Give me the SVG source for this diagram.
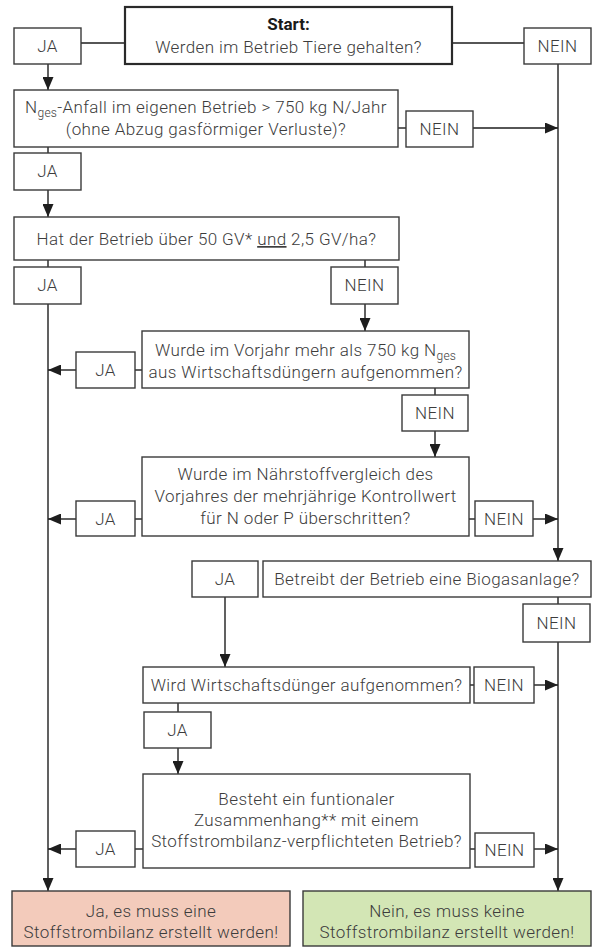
<svg xmlns="http://www.w3.org/2000/svg" width="595" height="949" viewBox="0 0 595 949">
<style>
.box{fill:#fff;stroke:#3a3a3a;stroke-width:1.4}
.start{fill:#fff;stroke:#2a2a2a;stroke-width:2.2}
.lbl{fill:#fff;stroke:#3a3a3a;stroke-width:1.4}
.yes{fill:#f3cbbb;stroke:#3a3a3a;stroke-width:1.4}
.no{fill:#d3e6b5;stroke:#3a3a3a;stroke-width:1.4}
text{font-family:Roboto,"Liberation Sans",Arial,sans-serif;font-weight:300;font-size:17px;letter-spacing:0.4px;fill:#3c3c3c;text-anchor:middle}
.b{font-weight:700;fill:#1a1a1a;letter-spacing:0}
.sub{font-size:12px;letter-spacing:0.2px}
.c line{stroke:#1e1e1e;stroke-width:1.4;fill:none}
</style>
<defs>
<marker id="ah" markerUnits="userSpaceOnUse" markerWidth="13" markerHeight="11" refX="13" refY="5.5" orient="auto">
<path d="M0,0 L13,5.5 L0,11 z" fill="#1e1e1e"/>
</marker>
</defs>

<g id="connectors" class="c">
<line x1="81" y1="43" x2="125" y2="43"/>
<line x1="452" y1="43" x2="524" y2="43"/>
<line x1="48" y1="64" x2="48" y2="90" marker-end="url(#ah)"/>
<line x1="398" y1="128" x2="406" y2="128"/>
<line x1="473" y1="128" x2="558" y2="128" marker-end="url(#ah)"/>
<line x1="558" y1="64" x2="558" y2="561" marker-end="url(#ah)"/>
<line x1="48" y1="147" x2="48" y2="153"/>
<line x1="48" y1="190" x2="48" y2="217" marker-end="url(#ah)"/>
<line x1="48" y1="260" x2="48" y2="267"/>
<line x1="365" y1="260" x2="365" y2="267"/>
<line x1="365" y1="304" x2="365" y2="331" marker-end="url(#ah)"/>
<line x1="48" y1="304" x2="48" y2="891" marker-end="url(#ah)"/>
<line x1="142" y1="370" x2="135" y2="370"/>
<line x1="76" y1="370" x2="48" y2="370" marker-end="url(#ah)"/>
<line x1="435" y1="388" x2="435" y2="395"/>
<line x1="435" y1="431" x2="435" y2="457" marker-end="url(#ah)"/>
<line x1="142" y1="519" x2="135" y2="519"/>
<line x1="76" y1="519" x2="48" y2="519" marker-end="url(#ah)"/>
<line x1="469" y1="519" x2="475" y2="519"/>
<line x1="533" y1="519" x2="558" y2="519" marker-end="url(#ah)"/>
<line x1="225" y1="597" x2="225" y2="667" marker-end="url(#ah)"/>
<line x1="558" y1="597" x2="558" y2="604"/>
<line x1="558" y1="642" x2="558" y2="891" marker-end="url(#ah)"/>
<line x1="470" y1="685" x2="474" y2="685"/>
<line x1="534" y1="685" x2="558" y2="685" marker-end="url(#ah)"/>
<line x1="178" y1="703" x2="178" y2="712"/>
<line x1="178" y1="748" x2="178" y2="774" marker-end="url(#ah)"/>
<line x1="143" y1="849" x2="135" y2="849"/>
<line x1="76" y1="849" x2="48" y2="849" marker-end="url(#ah)"/>
<line x1="470" y1="849" x2="475" y2="849"/>
<line x1="534" y1="849" x2="558" y2="849" marker-end="url(#ah)"/>
</g>

<g id="start">
<rect class="start" x="125" y="7" width="327" height="57"/>
<text x="288.5" y="30" class="b">Start:</text>
<text x="288.5" y="53">Werden im Betrieb Tiere gehalten?</text>
</g>
<g id="ja1"><rect class="lbl" x="14" y="28" width="67" height="36"/><text x="47.5" y="52">JA</text></g>
<g id="nein1"><rect class="lbl" x="524" y="28" width="67" height="36"/><text x="557.5" y="52">NEIN</text></g>

<g id="q-nges">
<rect class="box" x="14" y="90" width="384" height="57"/>
<text x="206" y="113">N<tspan class="sub" dy="4">ges</tspan><tspan dy="-4">-Anfall im eigenen Betrieb &gt; 750 kg N/Jahr</tspan></text>
<text x="206" y="135">(ohne Abzug gasförmiger Verluste)?</text>
</g>
<g id="nein2"><rect class="lbl" x="406" y="111" width="67" height="36"/><text x="439.5" y="135">NEIN</text></g>
<g id="ja2"><rect class="lbl" x="14" y="153" width="67" height="37"/><text x="47.5" y="177">JA</text></g>

<g id="q-gv">
<rect class="box" x="14" y="217" width="385" height="43"/>
<text x="206.5" y="245">Hat der Betrieb über 50 GV* <tspan text-decoration="underline">und</tspan> 2,5 GV/ha?</text>
</g>
<g id="ja3"><rect class="lbl" x="14" y="267" width="67" height="37"/><text x="47.5" y="291">JA</text></g>
<g id="nein3"><rect class="lbl" x="331" y="267" width="67" height="37"/><text x="364.5" y="291">NEIN</text></g>

<g id="q-vorjahr">
<rect class="box" x="142" y="331" width="327" height="57"/>
<text x="305.5" y="356">Wurde im Vorjahr mehr als 750 kg N<tspan class="sub" dy="4">ges</tspan></text>
<text x="305.5" y="378">aus Wirtschaftsdüngern aufgenommen?</text>
</g>
<g id="ja4"><rect class="lbl" x="76" y="352" width="59" height="36"/><text x="105.5" y="376">JA</text></g>
<g id="nein4"><rect class="lbl" x="402" y="395" width="66" height="36"/><text x="435" y="419">NEIN</text></g>

<g id="q-naehrstoff">
<rect class="box" x="142" y="457" width="327" height="79"/>
<text x="305.5" y="480">Wurde im Nährstoffvergleich des</text>
<text x="305.5" y="502">Vorjahres der mehrjährige Kontrollwert</text>
<text x="305.5" y="524">für N oder P überschritten?</text>
</g>
<g id="ja5"><rect class="lbl" x="76" y="501" width="59" height="35"/><text x="105.5" y="524.5">JA</text></g>
<g id="nein5"><rect class="lbl" x="475" y="501" width="58" height="35"/><text x="504" y="524.5">NEIN</text></g>

<g id="q-biogas">
<rect class="box" x="263" y="561" width="328" height="36"/>
<text x="427" y="585">Betreibt der Betrieb eine Biogasanlage?</text>
</g>
<g id="ja6"><rect class="lbl" x="192" y="561" width="66" height="36"/><text x="225" y="585">JA</text></g>
<g id="nein6"><rect class="lbl" x="523" y="604" width="67" height="38"/><text x="556.5" y="629">NEIN</text></g>

<g id="q-wirtschaftsduenger">
<rect class="box" x="143" y="667" width="327" height="36"/>
<text x="306.5" y="691">Wird Wirtschaftsdünger aufgenommen?</text>
</g>
<g id="nein7"><rect class="lbl" x="474" y="667" width="60" height="36"/><text x="504" y="691">NEIN</text></g>
<g id="ja7"><rect class="lbl" x="144" y="712" width="67" height="36"/><text x="177.5" y="736">JA</text></g>

<g id="q-zusammenhang">
<rect class="box" x="143" y="774" width="327" height="94"/>
<text x="306.5" y="805">Besteht ein funtionaler</text>
<text x="306.5" y="826">Zusammenhang** mit einem</text>
<text x="306.5" y="847">Stoffstrombilanz-verpflichteten Betrieb?</text>
</g>
<g id="ja8"><rect class="lbl" x="76" y="831" width="59" height="36"/><text x="105.5" y="855">JA</text></g>
<g id="nein8"><rect class="lbl" x="475" y="833" width="59" height="34"/><text x="504.5" y="856">NEIN</text></g>

<g id="result-ja">
<rect class="yes" x="12" y="891" width="278" height="55"/>
<text x="151" y="917">Ja, es muss eine</text>
<text x="151" y="938">Stoffstrombilanz erstellt werden!</text>
</g>
<g id="result-nein">
<rect class="no" x="303" y="891" width="288" height="55"/>
<text x="447" y="917">Nein, es muss keine</text>
<text x="447" y="938">Stoffstrombilanz erstellt werden!</text>
</g>
</svg>
